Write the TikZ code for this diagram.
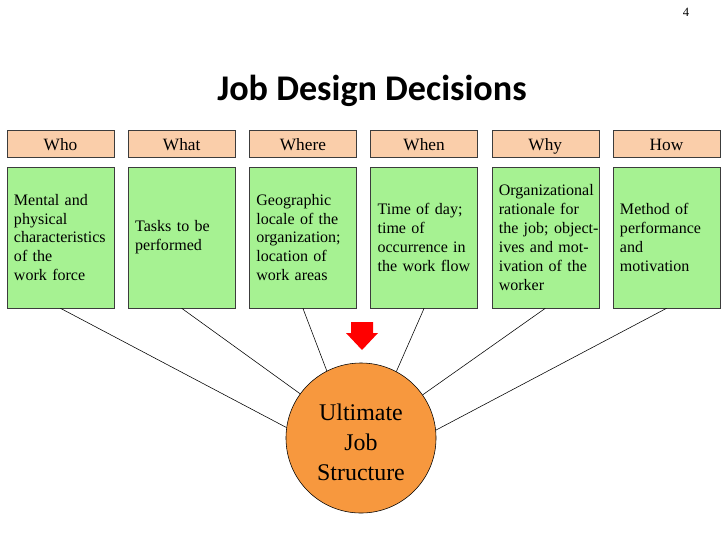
\documentclass[tikz,border=0pt]{standalone}
\usepackage{fontspec}
\setmainfont{Liberation Serif}
\newfontfamily\titlefont{Carlito}
\hyphenpenalty=10000
\exhyphenpenalty=10000
\definecolor{peach}{RGB}{250,206,170}
\definecolor{leafgreen}{RGB}{166,242,146}
\definecolor{joborange}{RGB}{247,152,62}
\definecolor{edgegray}{RGB}{60,60,60}
\begin{document}
\begin{tikzpicture}[x=0.025cm, y=-0.025cm,
  askbox/.style={draw=edgegray, fill=peach, minimum width=2.675cm, minimum height=0.675cm, inner sep=0pt, text height=10.6pt, text depth=0pt, font=\fontsize{12.3}{14}\selectfont},
  answerbox/.style={draw=edgegray, fill=leafgreen, text width=2.325cm, inner xsep=0.175cm, inner ysep=0pt, minimum height=3.525cm, align=left, font=\fontsize{11.4}{13.5}\selectfont}]
\useasboundingbox (0,0) rectangle (728,546);
\node[anchor=base, font=\fontsize{9}{10}\selectfont] (page) at (686,17) {4};
\node[anchor=base, font=\titlefont\bfseries\fontsize{25.7}{30}\selectfont] (title) at (372,100) {Job Design Decisions};
\node[askbox] (who) at (60.5,143.5) {Who};
\node[askbox] (what) at (181.7,143.5) {What};
\node[askbox] (where) at (302.9,143.5) {Where};
\node[askbox] (when) at (424.1,143.5) {When};
\node[askbox] (why) at (545.3,143.5) {Why};
\node[askbox] (how) at (666.5,143.5) {How};
\node[answerbox] (whoText) at (60.5,237.5) {Mental and\\physical\\characteristics\\of the\\work force};
\node[answerbox] (whatText) at (181.7,237.5) {Tasks to be\\performed};
\node[answerbox] (whereText) at (302.9,237.5) {Geographic\\locale of the\\organization;\\location of\\work areas};
\node[answerbox] (whenText) at (424.1,237.5) {Time of day;\\time of\\occurrence in\\the work flow};
\node[answerbox] (whyText) at (545.3,237.5) {Organizational\\rationale for\\\mbox{the job; object-}\\ives and mot-\\ivation of the\\worker};
\node[answerbox] (howText) at (666.5,237.5) {Method of\\performance\\and\\motivation};
\node[circle, draw=black, fill=joborange, minimum size=3.75cm, inner sep=0pt] (job) at (361,438) {};
\node[align=center, font=\fontsize{17}{21.3}\selectfont] (jobLabel) at (361,442) {Ultimate\\Job\\Structure};
\draw (whoText.south) -- (job.172);
\draw (whatText.south) -- (job.144);
\draw (whereText.south) -- (job.117);
\draw (whenText.south) -- (job.62);
\draw (whyText.south) -- (job.35);
\draw (howText.south) -- (job.6);
\fill[red] (351,322)--(373,322)--(373,333)--(378,333)--(362,350)--(346,333)--(351,333)--cycle;
\end{tikzpicture}
\end{document}
